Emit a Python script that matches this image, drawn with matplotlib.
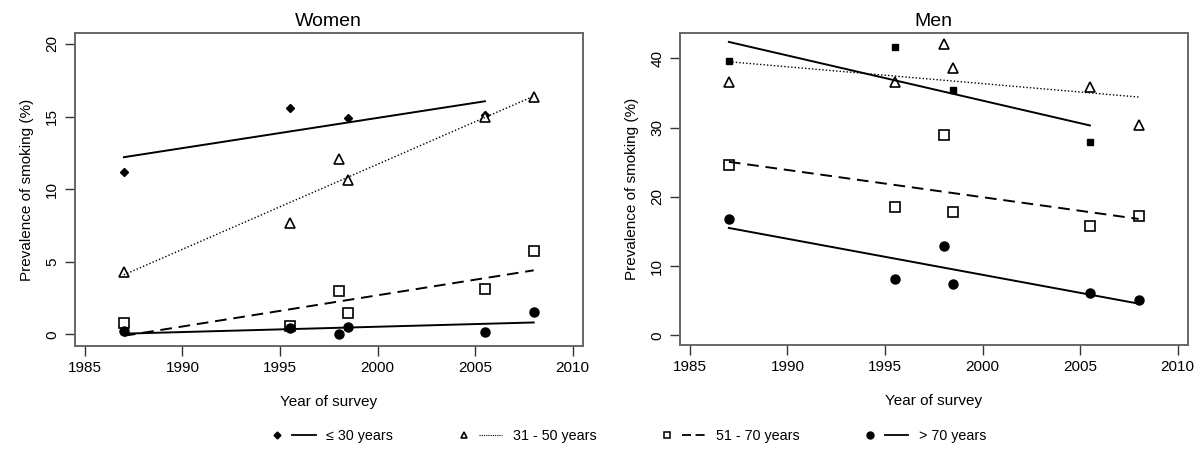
import matplotlib
matplotlib.use('Agg')
import matplotlib.pyplot as plt
from matplotlib.lines import Line2D
from matplotlib.legend_handler import HandlerTuple

plt.rcParams['font.family'] = ['Liberation Sans', 'DejaVu Sans']

# survey years
years = [1987, 1995.5, 1998, 1998.5, 2005.5, 2008]
fit_years = {'le30': [1987, 2005.5], 'm31': [1987, 2008], 'm51': [1987, 2008], 'gt70': [1987, 2008]}

# Women
w_le30_x = [1987, 1995.5, 1998.5, 2005.5]
w_le30 = [11.2, 15.6, 14.9, 15.1]
w_31_50 = [4.3, 7.7, 12.05, 10.6, 15.0, 16.35]
w_51_70 = [0.78, 0.57, 2.97, 1.46, 3.15, 5.71]
w_gt70 = [0.23, 0.46, 0.0, 0.5, 0.16, 1.53]
w_fit = {'le30': [12.2, 16.05], 'm31': [4.1, 16.4], 'm51': [-0.1, 4.41], 'gt70': [0.05, 0.82]}

# Men
m_le30_x = [1987, 1995.5, 1998.5, 2005.5]
m_le30 = [39.66, 41.6, 35.4, 27.9]
m_31_50 = [36.6, 36.6, 42.0, 38.6, 35.9, 30.3]
m_51_70 = [24.66, 18.46, 28.9, 17.84, 15.77, 17.2]
m_gt70 = [16.78, 8.13, 12.93, 7.45, 6.06, 5.1]
m_fit = {'le30': [42.36, 30.3], 'm31': [39.5, 34.4], 'm51': [25.05, 16.8], 'gt70': [15.5, 4.57]}

labels = ['\u2264 30 years', '31 - 50 years', '51 - 70 years', '> 70 years']


def draw_panel(ax, le30_x, le30, m31, m51, gt70, fit, le30_marker, le30_ms, title, ylim, yticks):
    ax.plot(le30_x, le30, ls='none', marker=le30_marker, ms=le30_ms, mfc='black', mec='black')
    ax.plot(years, m31, ls='none', marker='^', ms=7.5, mfc='white', mec='black', mew=1.2)
    ax.plot(years, m51, ls='none', marker='s', ms=6.5, mfc='white', mec='black', mew=1.2)
    ax.plot(years, gt70, ls='none', marker='o', ms=6.5, mfc='black', mec='black')

    ax.plot(fit_years['le30'], fit['le30'], color='black', lw=1.4, ls='-')
    ax.plot(fit_years['m31'], fit['m31'], color='black', lw=1.0, ls=(0, (1, 1.5)))
    ax.plot(fit_years['m51'], fit['m51'], color='black', lw=1.4, ls=(0, (6, 3.5)))
    ax.plot(fit_years['gt70'], fit['gt70'], color='black', lw=1.4, ls='-')

    ax.set_xlim(1984.47, 2010.5)
    ax.set_ylim(*ylim)
    ax.set_xticks([1985, 1990, 1995, 2000, 2005, 2010])
    ax.set_yticks(yticks)
    for lab in ax.get_yticklabels():
        lab.set_rotation(90)
        lab.set_va('center')
    ax.tick_params(direction='out', length=7, width=1, labelsize=11, color='#333333', pad=4)
    for s in ax.spines.values():
        s.set_color('#666666')
        s.set_linewidth(1.4)
    ax.set_title(title, fontsize=14, pad=5)
    ax.set_xlabel('Year of survey', fontsize=11, labelpad=14)
    ax.set_ylabel('Prevalence of smoking (%)', fontsize=11, labelpad=8)


fig = plt.figure(figsize=(12, 4.55), dpi=100)
ax1 = fig.add_axes([74.5 / 1200, 109 / 455, 508 / 1200, 313 / 455])
ax2 = fig.add_axes([679.5 / 1200, 110 / 455, 508 / 1200, 312 / 455])

draw_panel(ax1, w_le30_x, w_le30, w_31_50, w_51_70, w_gt70, w_fit, 'D', 4.5,
           'Women', (-0.8, 20.75), [0, 5, 10, 15, 20])
draw_panel(ax2, m_le30_x, m_le30, m_31_50, m_51_70, m_gt70, m_fit, 's', 5,
           'Men', (-1.4, 43.65), [0, 10, 20, 30, 40])

# legend: marker then line
handles = [
    (Line2D([], [], ls='none', marker='D', ms=3.5, color='black'),
     Line2D([], [], color='black', lw=1.3)),
    (Line2D([], [], ls='none', marker='^', ms=5, mfc='white', mec='black', mew=1.2),
     Line2D([], [], color='black', lw=0.8, ls=(0, (1, 1)))),
    (Line2D([], [], ls='none', marker='s', ms=4.5, mfc='white', mec='black', mew=1.1),
     Line2D([], [], color='black', lw=1.3, ls=(0, (5, 2.5)))),
    (Line2D([], [], ls='none', marker='o', ms=5, color='black'),
     Line2D([], [], color='black', lw=1.3)),
]
fig.legend(handles, labels, loc='center', bbox_to_anchor=(626 / 1200, 19 / 455), ncol=4, frameon=False,
           fontsize=10.3, handlelength=3.5, columnspacing=4.1, handletextpad=0.75,
           handler_map={tuple: HandlerTuple(ndivide=None, pad=0.25)})

fig.savefig('out.png', dpi=100)
